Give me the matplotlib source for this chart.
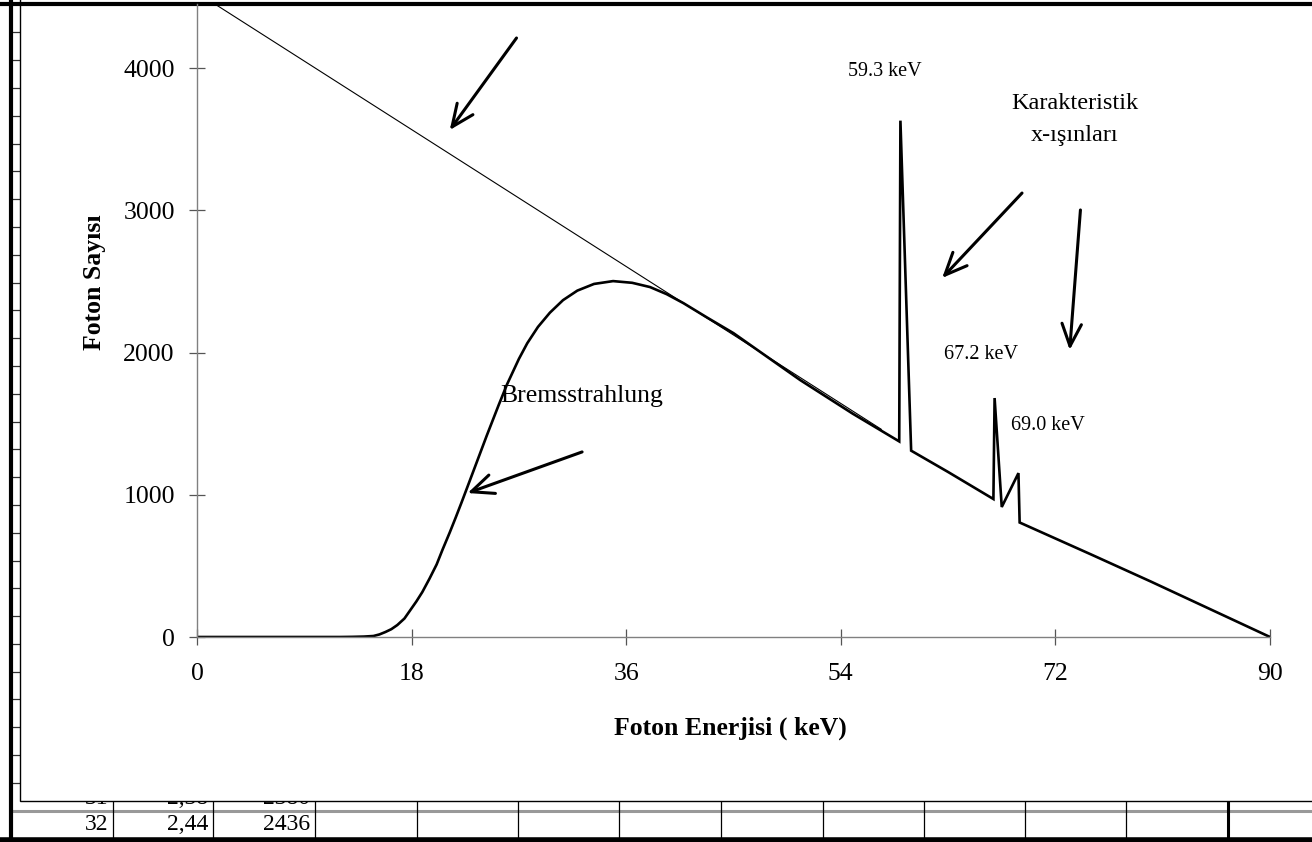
import matplotlib.pyplot as plt
from matplotlib.patches import Rectangle

plt.rcParams["font.family"] = ["Liberation Serif", "DejaVu Serif"]

# filtered spectrum (thick line)
energy = [0, 2, 4, 6, 8, 10, 12, 13, 14, 14.8, 15.3, 15.8, 16.3, 16.8, 17.4,
          17.9, 18.4, 18.9, 19.5, 20.1, 20.6, 21.2, 21.7, 22.2, 23.2, 24.3,
          25.3, 26.0, 27.0, 27.7, 28.6, 29.6, 30.7, 31.9, 33.3, 34.9, 36.5,
          38.0, 39.4, 40.8, 42.8, 45.0, 50.6, 55.0, 58.9, 59.0, 59.9, 63.0,
          66.8, 66.9, 67.5, 68.9, 69.0, 75, 80, 85, 90]
counts = [0, 0, 0, 0, 0, 0, 0, 1, 3, 7, 18, 35, 55, 84, 130,
          190, 250, 316, 410, 510, 615, 735, 840, 948, 1170, 1415,
          1630, 1775, 1955, 2065, 2180, 2280, 2368, 2435, 2482, 2502, 2490,
          2460, 2410, 2347, 2245, 2136, 1806, 1570, 1375, 3630, 1310, 1160,
          970, 1680, 914, 1152, 805, 580, 390, 195, 0]

# unfiltered spectrum (thin straight line)
energy_unf = [0, 57.4]
counts_unf = [4530, 1460]

xticks = [0, 18, 36, 54, 72, 90]
yticks = [0, 1000, 2000, 3000, 4000]

# peak labels: (text, energy, counts)
peak_labels = [("59.3 keV", 57.7, 3972), ("67.2 keV", 65.8, 1989), ("69.0 keV", 71.4, 1490)]

# arrows: (tail E, tail counts, head E, head counts)
arrows = [(26.8, 4211, 21.2, 3564),
          (69.2, 3121, 62.5, 2524),
          (74.1, 3002, 73.2, 2018),
          (32.3, 1301, 22.7, 1012)]

# spreadsheet cells visible below the chart
row31 = ["31", "2,38", "2380"]
row32 = ["32", "2,44", "2436"]
col_right = [108, 208, 310]
col_lines = [113, 213, 315, 417, 518, 619, 721, 823, 924, 1025, 1126, 1228]

fig = plt.figure(figsize=(13.12, 8.42), dpi=100)

# background: spreadsheet + chart object frame (pixel coordinates)
bg = fig.add_axes([0, 0, 1, 1])
bg.set_xlim(0, 1312)
bg.set_ylim(842, 0)
bg.axis("off")
y = 32.3
while y < 800:
    bg.plot([12, 20], [y, y], color="#333333", lw=0.9, zorder=1)
    y += 27.8
bg.plot([12, 1312], [810.5, 810.5], color="#999999", lw=2.2, zorder=1)
for cx in col_lines:
    lw = 2.2 if cx == 1228 else 0.9
    bg.plot([cx, cx], [795, 840], color="black", lw=lw, zorder=1)
for t, xr in zip(row31, col_right):
    bg.text(xr, 798.5, t, ha="right", va="center", fontsize=17, zorder=2)
for t, xr in zip(row32, col_right):
    bg.text(xr, 824, t, ha="right", va="center", fontsize=17, zorder=2)
bg.add_patch(Rectangle((20, -10), 1320, 811, facecolor="white", edgecolor="black",
                       lw=1.0, zorder=3))
bg.plot([0, 1312], [3.5, 3.5], color="black", lw=3, zorder=4)
bg.plot([10.5, 10.5], [0, 842], color="black", lw=3, zorder=4)
bg.plot([0, 1312], [840, 840], color="black", lw=4, zorder=4)

# main chart
ax = fig.add_axes([197 / 1312, 205 / 842, 1073 / 1312, 633 / 842])
ax.set_zorder(5)
ax.set_facecolor("none")
ax.plot(energy_unf, counts_unf, color="black", lw=0.8)
ax.plot(energy, counts, color="black", lw=1.9, solid_joinstyle="miter")
ax.set_xlim(0, 90)
ax.set_ylim(0, 4450)
ax.set_xticks(xticks)
ax.set_yticks(yticks)
for s in ["top", "right"]:
    ax.spines[s].set_visible(False)
for s in ["left", "bottom"]:
    ax.spines[s].set_color("#808080")
    ax.spines[s].set_linewidth(1.0)
ax.tick_params(axis="both", direction="inout", length=12, width=0.9,
               color="#555555", labelsize=18.5)
ax.tick_params(axis="y", pad=10)
ax.tick_params(axis="x", pad=13)

for t, ex, cy in peak_labels:
    ax.text(ex, cy, t, ha="center", va="center", fontsize=14.5)
ax.text(73.65, 3754, "Karakteristik", ha="center", va="center", fontsize=17.5)
ax.text(73.65, 3529, "x-ışınları", ha="center", va="center", fontsize=17.5)
ax.text(32.3, 1694, "Bremsstrahlung", ha="center", va="center", fontsize=18.5)

for x0, y0, x1, y1 in arrows:
    ax.annotate("", xy=(x1, y1), xytext=(x0, y0),
                arrowprops=dict(arrowstyle="->, head_length=0.8, head_width=0.35",
                                color="black", lw=2.2, shrinkA=0, shrinkB=0,
                                mutation_scale=20))

fig.text(95 / 1312, 1 - 282 / 842, "Foton Sayısı", rotation=90, ha="center",
         va="center", fontsize=18.5, fontweight="bold")
fig.text(730 / 1312, 1 - 728 / 842, "Foton Enerjisi ( keV)", ha="center",
         va="center", fontsize=18.5, fontweight="bold")

fig.savefig("out.png", dpi=100)
